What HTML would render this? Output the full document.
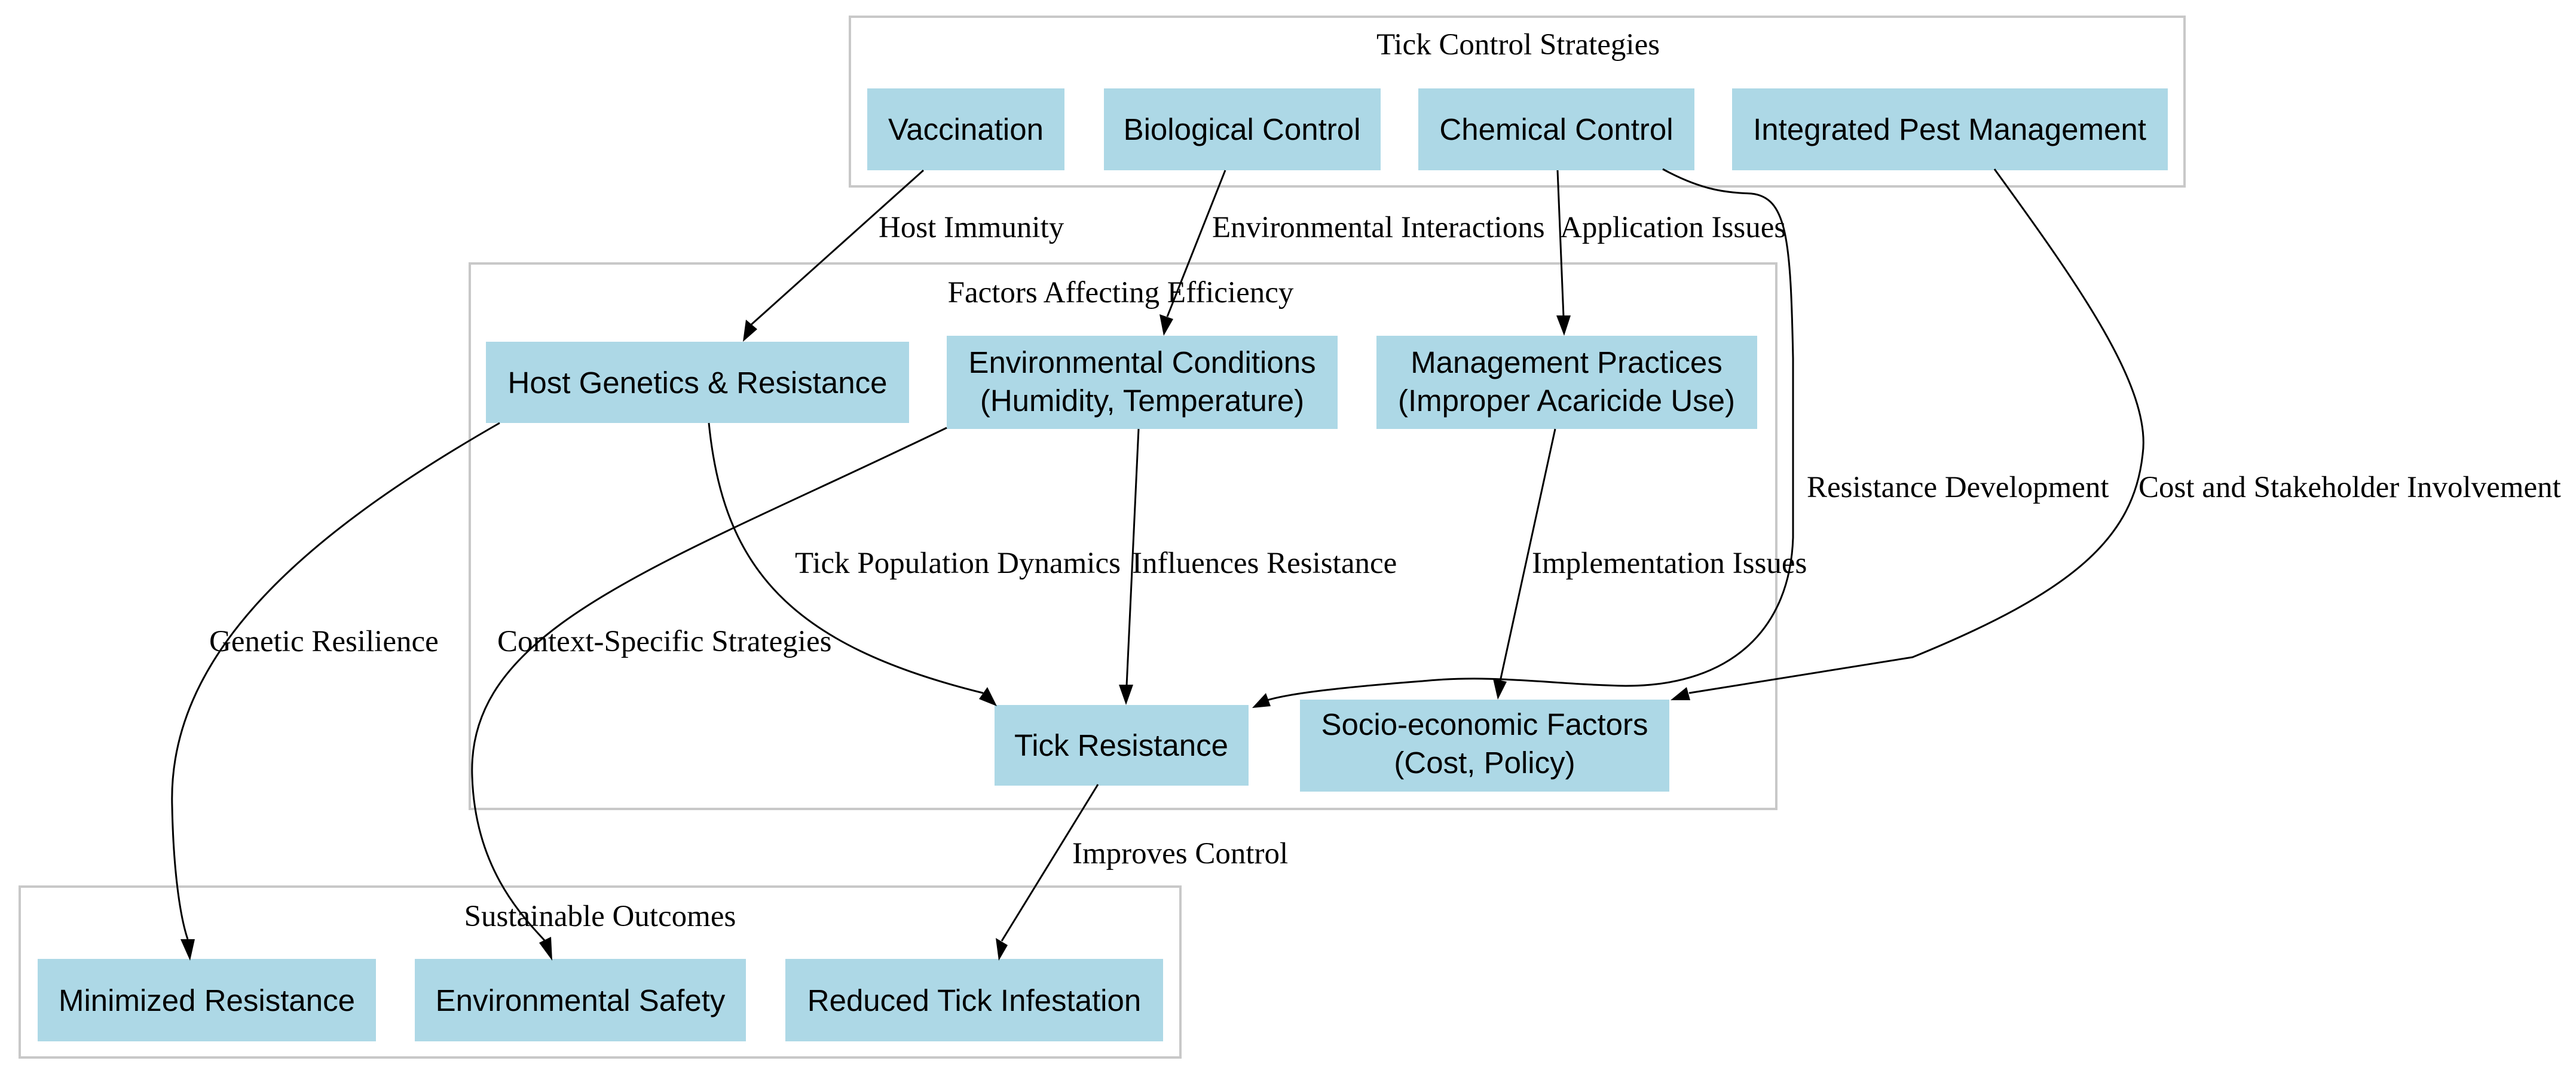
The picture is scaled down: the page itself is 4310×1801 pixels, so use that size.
<!DOCTYPE html>
<html><head><meta charset="utf-8"><style>html,body{margin:0;padding:0;background:#fff}svg{display:block}</style></head>
<body>
<svg width="4310" height="1801" viewBox="0 0 4310 1801" xmlns="http://www.w3.org/2000/svg">
<defs>
<marker id="a" markerWidth="12" markerHeight="10" refX="11" refY="5" orient="auto" markerUnits="userSpaceOnUse" viewBox="0 0 12 10">
</marker>
</defs>
<g fill="none" stroke="#c8c8c8" stroke-width="4">
<rect x="1422" y="28" width="2233" height="284"/>
<rect x="786" y="441" width="2186" height="913"/>
<rect x="33" y="1484" width="1942" height="286"/>
</g>
<g font-family="Liberation Serif, serif" font-size="51" fill="#000" text-anchor="middle">
<text x="2540" y="91">Tick Control Strategies</text>
<text x="1875" y="506">Factors Affecting Efficiency</text>
<text x="1004" y="1550">Sustainable Outcomes</text>
</g>
<g fill="#add8e6">
<rect x="1451" y="148" width="330" height="137"/>
<rect x="1847" y="148" width="463" height="137"/>
<rect x="2373" y="148" width="462" height="137"/>
<rect x="2898" y="148" width="729" height="137"/>
<rect x="813" y="572" width="708" height="136"/>
<rect x="1584" y="562" width="654" height="156"/>
<rect x="2303" y="562" width="637" height="156"/>
<rect x="1664" y="1180" width="425" height="135"/>
<rect x="2175" y="1171" width="618" height="154"/>
<rect x="63" y="1605" width="566" height="138"/>
<rect x="694" y="1605" width="554" height="138"/>
<rect x="1314" y="1605" width="632" height="138"/>
</g>
<g font-family="Liberation Sans, Arial, sans-serif" font-size="51" fill="#000" text-anchor="middle">
<text x="1616" y="234">Vaccination</text>
<text x="2078" y="234">Biological Control</text>
<text x="2604" y="234">Chemical Control</text>
<text x="3262" y="234">Integrated Pest Management</text>
<text x="1167" y="658">Host Genetics &amp; Resistance</text>
<text x="1911" y="624">Environmental Conditions</text>
<text x="1911" y="688">(Humidity, Temperature)</text>
<text x="2621" y="624">Management Practices</text>
<text x="2621" y="688">(Improper Acaricide Use)</text>
<text x="1876" y="1265">Tick Resistance</text>
<text x="2484" y="1230">Socio-economic Factors</text>
<text x="2484" y="1294">(Cost, Policy)</text>
<text x="346" y="1692">Minimized Resistance</text>
<text x="971" y="1692">Environmental Safety</text>
<text x="1630" y="1692">Reduced Tick Infestation</text>
</g>
<g fill="none" stroke="#000" stroke-width="3">
<path d="M1545,285 L1255,545"/>
<path d="M2050,285 L1953,530"/>
<path d="M2606,285 L2616,530"/>
<path d="M2782,283 C2850,320 2890,322 2930,324 C2990,330 2996,400 3000,600 L3000,900 C2995,1050 2900,1148 2720,1148 C2600,1146 2500,1128 2380,1140 C2250,1150 2160,1160 2120,1172"/>
<path d="M3337,283 C3480,480 3600,650 3585,760 C3570,900 3470,990 3200,1100 L2826,1160"/>
<path d="M836,708 C500,900 280,1100 288,1350 C290,1450 300,1530 314,1572"/>
<path d="M1186,708 C1210,950 1320,1080 1645,1160"/>
<path d="M1584,716 C1100,950 780,1050 790,1300 C795,1450 870,1530 912,1575"/>
<path d="M1905,718 L1885,1148"/>
<path d="M2602,718 L2510,1140"/>
<path d="M1837,1313 L1676,1575"/>
</g>
<g fill="#000">
<polygon points="1243,572 1248,535 1267,551"/>
<polygon points="1947,562 1940,526 1963,534"/>
<polygon points="2617,562 2604,528 2628,528"/>
<polygon points="2095,1185 2118,1160 2126,1182"/>
<polygon points="2795,1172 2822,1150 2828,1172"/>
<polygon points="318,1608 302,1572 326,1572"/>
<polygon points="1668,1182 1638,1170 1652,1150"/>
<polygon points="924,1608 902,1578 922,1568"/>
<polygon points="1884,1180 1872,1146 1896,1146"/>
<polygon points="2506,1171 2498,1136 2521,1141"/>
<polygon points="1671,1608 1666,1570 1686,1582"/>
</g>
<g font-family="Liberation Serif, serif" font-size="51" fill="#000">
<text x="1470" y="397">Host Immunity</text>
<text x="2028" y="397">Environmental Interactions</text>
<text x="2610" y="397">Application Issues</text>
<text x="1330" y="959">Tick Population Dynamics</text>
<text x="1894" y="959">Influences Resistance</text>
<text x="2563" y="959">Implementation Issues</text>
<text x="3023" y="832">Resistance Development</text>
<text x="3578" y="832">Cost and Stakeholder Involvement</text>
<text x="350" y="1090">Genetic Resilience</text>
<text x="832" y="1090">Context-Specific Strategies</text>
<text x="1794" y="1445">Improves Control</text>
</g>
</svg>
</body></html>
